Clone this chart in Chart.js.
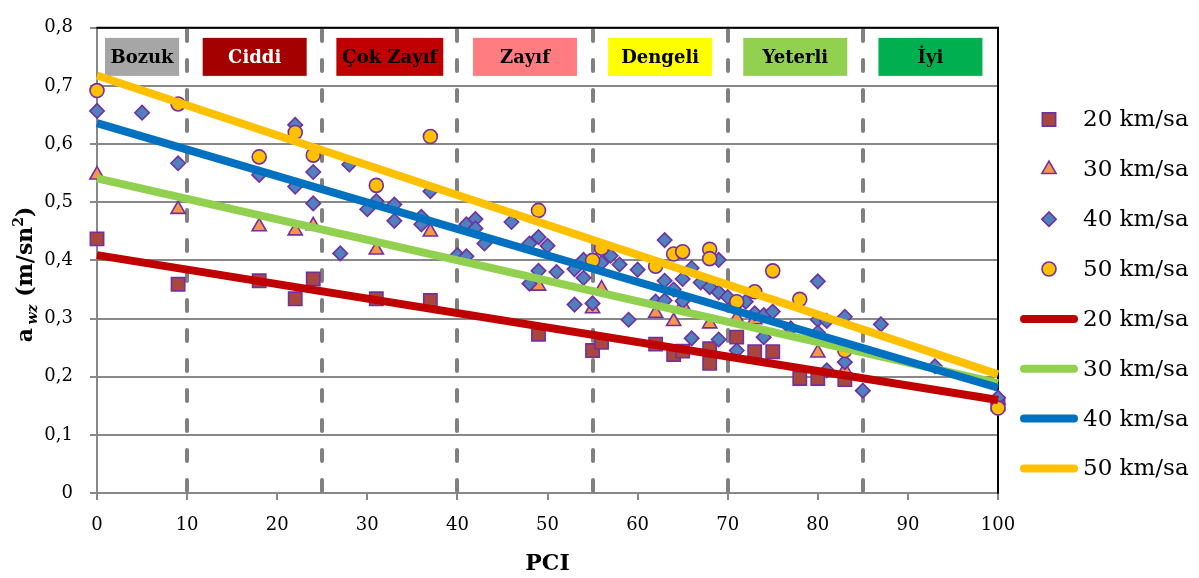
<!DOCTYPE html>
<html>
<head>
<meta charset="utf-8">
<script src="https://cdn.jsdelivr.net/npm/chart.js@4.4.1/dist/chart.umd.min.js"></script>
<style>
  html, body { margin: 0; padding: 0; background: #fff; }
  #awzChart { display: block; }
</style>
</head>
<body>
<canvas id="awzChart" width="1199" height="578"></canvas>
<script>
// PCI class bands shown along the top of the plot
const bandEdges = [0, 10, 25, 40, 55, 70, 85, 100];
const bandNames = ['Bozuk', 'Ciddi', 'Çok Zayıf', 'Zayıf', 'Dengeli', 'Yeterli', 'İyi'];

// measured points, one pair of arrays per speed
const pci20 = [0, 9, 18, 22, 24, 31, 37, 49, 55, 56, 62, 64, 65, 68, 68, 71, 73, 75, 78, 80, 83, 100];
const awz20 = [0.437, 0.359, 0.365, 0.334, 0.368, 0.334, 0.331, 0.273, 0.245, 0.259, 0.256, 0.238, 0.244, 0.248, 0.223, 0.268, 0.243, 0.243, 0.197, 0.197, 0.195, 0.153];

const pci30 = [0, 9, 18, 22, 24, 31, 37, 49, 55, 56, 62, 64, 65, 68, 71, 73, 80, 83, 100];
const awz30 = [0.547, 0.488, 0.458, 0.451, 0.46, 0.418, 0.449, 0.356, 0.317, 0.351, 0.309, 0.295, 0.323, 0.291, 0.3, 0.298, 0.241, 0.211, 0.16];

const pci40 = [0, 5, 9, 18, 22, 22, 24, 24, 27, 28, 30, 31, 33, 33, 36, 36, 37, 40, 41, 41, 42, 42, 43, 46, 48, 48,
  49, 49, 50, 51, 53, 53, 54, 54, 55, 56, 57, 58, 59, 60, 62, 63, 63, 63, 64, 65, 65, 66, 66, 67, 68, 69, 69, 69,
  70, 71, 72, 73, 74, 74, 75, 77, 80, 80, 80, 81, 81, 83, 83, 85, 87, 93, 100];
const awz40 = [0.657, 0.654, 0.567, 0.547, 0.633, 0.527, 0.552, 0.498, 0.412, 0.565, 0.488, 0.502, 0.496, 0.468, 0.475, 0.462, 0.519, 0.409, 0.407, 0.462, 0.471, 0.455, 0.429, 0.466, 0.429, 0.36,
  0.44, 0.382, 0.425, 0.38, 0.324, 0.385, 0.401, 0.37, 0.326, 0.396, 0.408, 0.393, 0.298, 0.384, 0.329, 0.435, 0.365, 0.331, 0.35, 0.368, 0.33, 0.387, 0.266, 0.362, 0.354, 0.401, 0.345, 0.264,
  0.337, 0.245, 0.329, 0.309, 0.306, 0.268, 0.312, 0.283, 0.364, 0.298, 0.276, 0.296, 0.211, 0.303, 0.225, 0.176, 0.29, 0.218, 0.164];

const pci50 = [0, 9, 18, 22, 24, 31, 37, 49, 55, 56, 62, 64, 65, 68, 68, 71, 73, 75, 78, 83, 100];
const awz50 = [0.692, 0.669, 0.578, 0.62, 0.581, 0.529, 0.613, 0.486, 0.4, 0.421, 0.39, 0.411, 0.415, 0.419, 0.403, 0.329, 0.346, 0.382, 0.333, 0.245, 0.146];

// linear trend lines (start and end of the PCI range)
const trendPci = [0, 100];
const trend20 = [0.409, 0.16];
const trend30 = [0.541, 0.189];
const trend40 = [0.636, 0.181];
const trend50 = [0.718, 0.204];

const seriesLabels = ['20 km/sa', '30 km/sa', '40 km/sa', '50 km/sa'];
const yTickLabels = ['0', '0,1', '0,2', '0,3', '0,4', '0,5', '0,6', '0,7', '0,8'];
const xTickLabels = ['0', '10', '20', '30', '40', '50', '60', '70', '80', '90', '100'];

// styles
const fontFamily = "'DejaVu Serif', 'Liberation Serif', serif";
const markerBorder = '#7030A0';
const markerFills = ['#A9473F', '#F79646', '#4F81BD', '#FFC000'];
const markerStyles = ['rect', 'triangle', 'rectRot', 'circle'];
const markerRadius = [9.4, 8.2, 7.2, 7];
const trendColors = ['#C00000', '#92D050', '#0070C0', '#FFC000'];
const bandFills = ['#A6A6A6', '#A50000', '#C00000', '#FF7C80', '#FFFF00', '#92D050', '#00B050'];
const bandText = ['#000', '#fff', '#000', '#000', '#000', '#000', '#000'];

Chart.defaults.font.family = fontFamily;
Chart.defaults.color = '#000';

function points(xs, ys) {
  return xs.map((x, i) => ({ x: x, y: ys[i] }));
}

const scatterSets = [[pci20, awz20], [pci30, awz30], [pci40, awz40], [pci50, awz50]];
const trendSets = [trend20, trend30, trend40, trend50];

const datasets = [];
scatterSets.forEach((s, i) => {
  datasets.push({
    label: seriesLabels[i],
    data: points(s[0], s[1]),
    pointStyle: markerStyles[i],
    pointRadius: markerRadius[i],
    pointHoverRadius: markerRadius[i],
    backgroundColor: markerFills[i],
    borderColor: markerBorder,
    pointBorderWidth: 1.6,
    showLine: false,
    clip: false,
    order: 7 - i
  });
});
trendSets.forEach((t, i) => {
  datasets.push({
    label: seriesLabels[i],
    data: points(trendPci, t),
    showLine: true,
    pointRadius: 0,
    pointHoverRadius: 0,
    borderColor: trendColors[i],
    backgroundColor: trendColors[i],
    borderWidth: 8,
    clip: false,
    order: 3 - i
  });
});

// dashed band limits, the coloured class labels and the plot frame
const bandPlugin = {
  id: 'pciBands',
  beforeDatasetsDraw(chart) {
    const { ctx, chartArea, scales } = chart;
    ctx.save();
    ctx.strokeStyle = '#808080';
    ctx.lineWidth = 4;
    ctx.lineCap = 'round';
    ctx.setLineDash([11, 19]);
    bandEdges.slice(1, -1).forEach(v => {
      const x = Math.round(scales.x.getPixelForValue(v));
      ctx.beginPath();
      ctx.moveTo(x, chartArea.bottom - 2);
      ctx.lineTo(x, chartArea.top);
      ctx.stroke();
    });
    ctx.setLineDash([]);

    // class label boxes, centred in the 0,7 - 0,8 strip
    const yMid = (scales.y.getPixelForValue(0.8) + scales.y.getPixelForValue(0.7)) / 2;
    const boxH = 38;
    ctx.font = 'bold 18px ' + fontFamily;
    ctx.textAlign = 'center';
    ctx.textBaseline = 'middle';
    bandNames.forEach((name, i) => {
      const x0 = scales.x.getPixelForValue(bandEdges[i]);
      const x1 = scales.x.getPixelForValue(bandEdges[i + 1]);
      const tw = ctx.measureText(name).width;
      const w = Math.min(Math.max(tw + 12, 104), (x1 - x0) - 16);
      const cx = (x0 + x1) / 2;
      ctx.fillStyle = bandFills[i];
      ctx.fillRect(cx - w / 2, yMid - boxH / 2, w, boxH);
      ctx.fillStyle = bandText[i];
      ctx.fillText(name, cx, yMid + 1);
    });

    // top and right frame
    ctx.strokeStyle = '#000';
    ctx.lineWidth = 2;
    ctx.beginPath();
    ctx.moveTo(chartArea.left, chartArea.top);
    ctx.lineTo(chartArea.right, chartArea.top);
    ctx.lineTo(chartArea.right, chartArea.bottom);
    ctx.stroke();
    ctx.restore();
  },
  afterDraw(chart) {
    const { ctx, chartArea } = chart;
    ctx.save();

    // x axis title
    ctx.font = 'bold 22px ' + fontFamily;
    ctx.textAlign = 'center';
    ctx.textBaseline = 'middle';
    ctx.fillStyle = '#000';
    ctx.fillText('PCI', (chartArea.left + chartArea.right) / 2, 564);

    // y axis title with subscript and superscript
    const parts = [
      { t: 'a', f: 'bold 22px ', dy: 0 },
      { t: ' ', f: 'bold 10px ', dy: 0 },
      { t: 'wz', f: 'bold italic 14px ', dy: 5 },
      { t: ' (m/sn', f: 'bold 22px ', dy: 0 },
      { t: '2', f: 'bold 14px ', dy: -9 },
      { t: ')', f: 'bold 22px ', dy: 0 }
    ];
    let total = 0;
    parts.forEach(p => { ctx.font = p.f + fontFamily; p.w = ctx.measureText(p.t).width; total += p.w; });
    ctx.translate(32, (chartArea.top + chartArea.bottom) / 2 + 14);
    ctx.rotate(-Math.PI / 2);
    ctx.textAlign = 'left';
    ctx.textBaseline = 'alphabetic';
    let px = -total / 2;
    parts.forEach(p => {
      ctx.font = p.f + fontFamily;
      ctx.fillText(p.t, px, p.dy);
      px += p.w;
    });
    ctx.restore();

    // legend: markers first, then the trend lines
    ctx.save();
    const legendX = chartArea.right + 51;
    const textX = chartArea.right + 85;
    ctx.font = '23px ' + fontFamily;
    ctx.textBaseline = 'middle';
    ctx.textAlign = 'left';
    for (let i = 0; i < 8; i++) {
      const y = 119.5 + 49.85 * i;
      if (i < 4) {
        ctx.fillStyle = markerFills[i];
        ctx.strokeStyle = markerBorder;
        ctx.lineWidth = 1.6;
        Chart.helpers.drawPoint(ctx, { pointStyle: markerStyles[i], radius: markerRadius[i], borderWidth: 1.6, rotation: 0 }, legendX, y);
      } else {
        ctx.strokeStyle = trendColors[i - 4];
        ctx.lineWidth = 8;
        ctx.lineCap = 'round';
        ctx.beginPath();
        ctx.moveTo(legendX - 25, y);
        ctx.lineTo(legendX + 25, y);
        ctx.stroke();
      }
      ctx.fillStyle = '#000';
      ctx.fillText(seriesLabels[i % 4], textX, y + 1);
    }
    ctx.restore();
  }
};

new Chart(document.getElementById('awzChart'), {
  type: 'scatter',
  data: { datasets: datasets },
  plugins: [bandPlugin],
  options: {
    responsive: false,
    animation: false,
    layout: { padding: { top: 15, right: 201, bottom: 0, left: 0 } },
    plugins: {
      legend: { display: false },
      tooltip: { enabled: false }
    },
    scales: {
      x: {
        type: 'linear',
        min: 0,
        max: 100,
        afterFit(scale) { scale.height = 85; },
        afterBuildTicks(scale) { scale.ticks = xTickLabels.map((t, i) => ({ value: i * 10 })); },
        ticks: {
          font: { size: 18 },
          padding: 15,
          maxRotation: 0,
          callback: (v, i) => xTickLabels[i]
        },
        grid: { drawOnChartArea: false, tickLength: 7, tickColor: '#888', lineWidth: 2 },
        border: { color: '#888', width: 2 }
      },
      y: {
        min: 0,
        max: 0.8,
        afterFit(scale) { scale.width = 97; },
        afterBuildTicks(scale) { scale.ticks = yTickLabels.map((t, i) => ({ value: i / 10 })); },
        ticks: {
          font: { size: 18 },
          padding: 17,
          callback: (v, i) => yTickLabels[i]
        },
        grid: { color: '#888', lineWidth: 2, tickLength: 7, tickColor: '#888' },
        border: { color: '#888', width: 2 }
      }
    }
  }
});
</script>
</body>
</html>
